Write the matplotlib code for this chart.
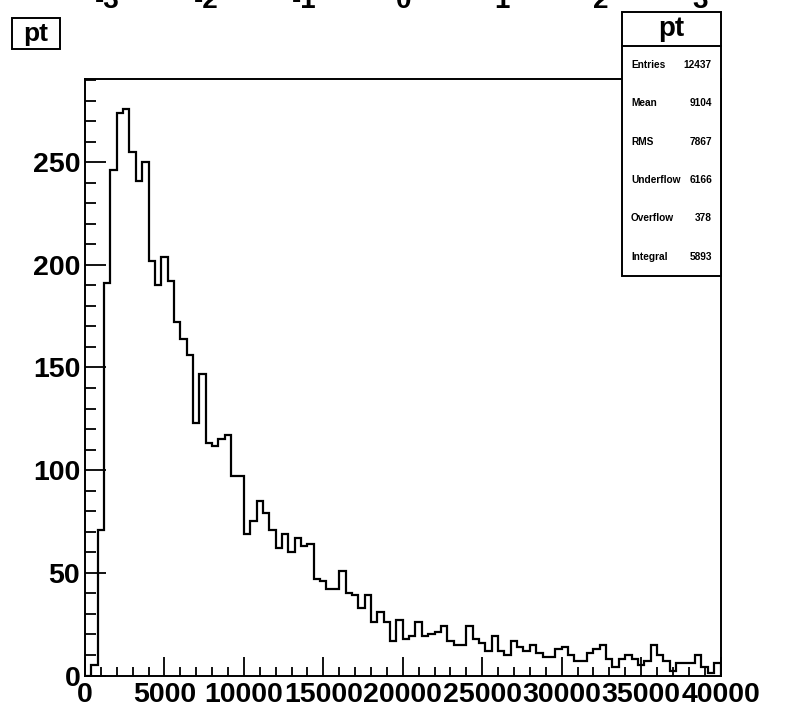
import numpy as np
import matplotlib
matplotlib.use('Agg')
import matplotlib.pyplot as plt
from matplotlib.patches import Rectangle
from matplotlib.lines import Line2D

# ---------------- data ----------------
counts = [0, 5, 71, 191, 246, 274, 276, 255, 241, 250,
          202, 190, 204, 192, 172, 164, 156, 123, 147, 113,
          112, 115, 117, 97, 97, 69, 75, 85, 79, 71,
          62, 69, 60, 67, 63, 64, 47, 46, 42, 42,
          51, 40, 39, 33, 39, 26, 31, 26, 17, 27,
          18, 19, 26, 19, 20, 21, 24, 17, 15, 15,
          24, 18, 16, 12, 19, 12, 10, 17, 14, 12,
          15, 11, 9, 9, 13, 14, 10, 7, 7, 11,
          13, 15, 8, 4, 8, 10, 8, 5, 7, 15,
          10, 7, 2, 6, 6, 6, 10, 4, 1, 6]
x_min, x_max, n_bins = 0, 40000, 100
y_max = 290.5
x_ticks = [0, 5000, 10000, 15000, 20000, 25000, 30000, 35000, 40000]
y_ticks = [0, 50, 100, 150, 200, 250]
hist_name = 'pt'
stat_names = ['Entries', 'Mean', 'RMS', 'Underflow', 'Overflow', 'Integral']
stat_values = ['12437', '9104', '7867', '6166', '378', '5893']
top_labels = ['-3', '-2', '-1', '0', '1', '2', '3']

# ---------------- layout helpers ----------------
W, H = 789, 705
plt.rcParams['font.family'] = ['Liberation Sans', 'DejaVu Sans']
fig = plt.figure(figsize=(W / 100, H / 100), dpi=100)


def fx(px):
    return px / W


def fy(py):
    return 1 - py / H


L, R, T, B = 85, 720.5, 79, 675.5
ax = fig.add_axes([fx(L), fy(B), (R - L) / W, (B - T) / H])

edges = np.linspace(x_min, x_max, n_bins + 1)
ax.stairs(counts, edges, color='black', lw=1.6, baseline=0)
ax.set_xlim(x_min, x_max)
ax.set_ylim(0, y_max)

ax.set_xticks(x_ticks)
ax.set_xticklabels([str(v) for v in x_ticks])
ax.set_xticks(np.arange(x_min, x_max + 1, 1000), minor=True)
ax.set_yticks(y_ticks)
ax.set_yticklabels([str(v) for v in y_ticks])
ax.set_yticks(np.arange(0, y_max, 10), minor=True)

ax.tick_params(which='both', direction='in', top=False, right=False, width=1.3, color='black')
ax.tick_params(axis='x', which='major', length=13.5, pad=5, labelsize=20.5)
ax.tick_params(axis='x', which='minor', length=6.5)
ax.tick_params(axis='y', which='major', length=15, pad=3.5, labelsize=20.5)
ax.tick_params(axis='y', which='minor', length=8)
for lab in ax.get_xticklabels() + ax.get_yticklabels():
    lab.set_fontweight('bold')
for sp in ax.spines.values():
    sp.set_linewidth(1.4)

# clipped labels at very top (remnant of another axis)
top_x = np.linspace(107, 700, len(top_labels))
for xp, s in zip(top_x, top_labels):
    fig.text(fx(xp), fy(8), s, ha='center', va='baseline', fontsize=20,
             fontweight='bold')

# title box
fig.add_artist(Rectangle((fx(12), fy(49)), (60 - 12) / W, (49 - 18) / H,
                         transform=fig.transFigure, fill=True, facecolor='white',
                         edgecolor='black', lw=1.4, zorder=5))
fig.text(fx(36), fy(33.5), hist_name, ha='center', va='center', fontsize=19,
         fontweight='bold', zorder=6)

# stats box
bx0, bx1, by0, by1, sep = 622, 720.5, 12, 276, 46
fig.add_artist(Rectangle((fx(bx0), fy(by1)), (bx1 - bx0) / W, (by1 - by0) / H,
                         transform=fig.transFigure, facecolor='white',
                         edgecolor='black', lw=1.4, zorder=5))
fig.add_artist(Line2D([fx(bx0), fx(bx1)], [fy(sep), fy(sep)], transform=fig.transFigure,
                      color='black', lw=1.4, zorder=6))
fig.text(fx((bx0 + bx1) / 2), fy(29), hist_name, ha='center', va='center',
         fontsize=20, fontweight='bold', zorder=6)
row_h = (by1 - sep) / len(stat_names)
for i, (n, v) in enumerate(zip(stat_names, stat_values)):
    yy = sep + row_h * (i + 0.5)
    fig.text(fx(631), fy(yy), n, ha='left', va='center', fontsize=7.3,
             fontweight='bold', zorder=6)
    fig.text(fx(712), fy(yy), v, ha='right', va='center', fontsize=7.3,
             fontweight='bold', zorder=6)

fig.savefig('out.png', dpi=100)
